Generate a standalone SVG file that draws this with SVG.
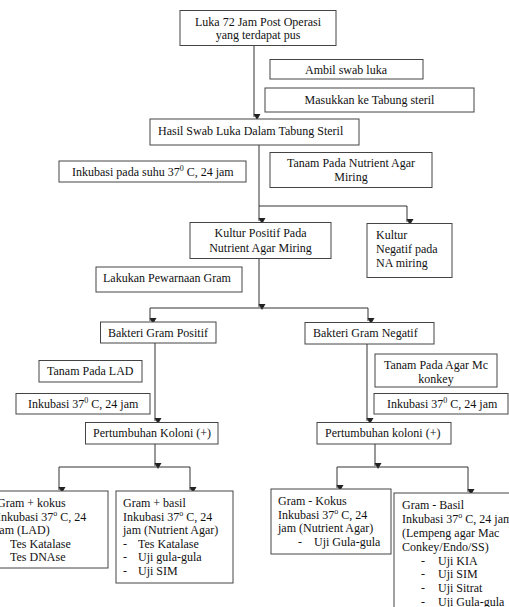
<svg xmlns="http://www.w3.org/2000/svg" width="509" height="607" viewBox="0 0 509 607">
<defs>
<marker id="arr" markerUnits="userSpaceOnUse" markerWidth="8" markerHeight="8" viewBox="0 0 8 8" refX="4" refY="7" orient="auto-start-reverse">
<path d="M0.5,1 L7.5,1 L4,7 Z" fill="#222" transform="rotate(-90 4 4)"/>
</marker>
<style>
rect{fill:#fff;stroke:#444;stroke-width:1}
text{font-family:"Liberation Serif","Times New Roman",serif;font-size:12px;fill:#111}
.c{text-anchor:middle}
.sup{font-size:8px}
#connectors path{fill:none;stroke:#333;stroke-width:1}
</style>
</defs>
<rect x="0" y="0" width="509" height="607" style="fill:#fff;stroke:none"/>
<g id="connectors">
<path d="M254,45 V117" marker-end="url(#arr)"/>
<path d="M259,145 V206 H407 V222" marker-end="url(#arr)"/>
<path d="M259,206 V221" marker-end="url(#arr)"/>
<path d="M259,258 V307" marker-end="url(#arr)"/>
<path d="M259,308 H150 V321" marker-end="url(#arr)"/>
<path d="M259,308 H368 V321" marker-end="url(#arr)"/>
<path d="M155,343 V421" marker-end="url(#arr)"/>
<path d="M367,344 V421" marker-end="url(#arr)"/>
<path d="M155,444 V466" marker-end="url(#arr)"/>
<path d="M155,467 H59 V490" marker-end="url(#arr)"/>
<path d="M155,467 H190 V490" marker-end="url(#arr)"/>
<path d="M375,444 V466" marker-end="url(#arr)"/>
<path d="M375,467 H337 V488" marker-end="url(#arr)"/>
<path d="M375,467 H468 V492" marker-end="url(#arr)"/>
</g>
<g id="n-luka"><rect x="180" y="10.5" width="156" height="35"/><text class="c" x="258" y="26">Luka 72 Jam Post Operasi</text><text class="c" x="258" y="38.5">yang terdapat pus</text></g>
<g id="n-ambil"><rect x="270" y="59.5" width="153" height="19.5"/><text class="c" x="346" y="74">Ambil swab luka</text></g>
<g id="n-masukkan"><rect x="265" y="88" width="209" height="24"/><text class="c" x="369.5" y="104">Masukkan ke Tabung steril</text></g>
<g id="n-hasil"><rect x="150" y="119" width="209" height="26"/><text x="158" y="135">Hasil Swab Luka Dalam Tabung Steril</text></g>
<g id="n-inkubasi1"><rect x="59" y="161" width="187" height="21"/><text x="72" y="176">Inkubasi pada suhu 37<tspan class="sup" dy="-5">0</tspan><tspan dy="5"> C, 24 jam</tspan></text></g>
<g id="n-tanam-na"><rect x="270" y="152.5" width="162" height="35"/><text class="c" x="351" y="167">Tanam Pada Nutrient Agar</text><text class="c" x="351" y="181">Miring</text></g>
<g id="n-kultur-pos"><rect x="190" y="222.5" width="141" height="36"/><text class="c" x="260.5" y="237">Kultur Positif Pada</text><text class="c" x="260.5" y="252">Nutrient Agar Miring</text></g>
<g id="n-kultur-neg"><rect x="367" y="223.5" width="85" height="54"/><text x="376" y="239">Kultur</text><text x="376" y="253">Negatif pada</text><text x="376" y="267">NA miring</text></g>
<g id="n-lakukan"><rect x="96" y="267" width="146" height="25"/><text x="103" y="282">Lakukan Pewarnaan Gram</text></g>
<g id="n-gram-pos"><rect x="100.5" y="322" width="115.5" height="21"/><text x="108" y="337">Bakteri Gram Positif</text></g>
<g id="n-gram-neg"><rect x="305" y="322.5" width="129" height="21.5"/><text x="313" y="337">Bakteri Gram Negatif</text></g>
<g id="n-tanam-lad"><rect x="39" y="360.5" width="103" height="21.5"/><text x="47" y="375">Tanam Pada LAD</text></g>
<g id="n-tanam-mc"><rect x="375" y="354" width="122" height="33"/><text class="c" x="436" y="369">Tanam Pada Agar Mc</text><text class="c" x="436" y="383">konkey</text></g>
<g id="n-inkubasi-l"><rect x="16" y="393.5" width="134" height="20.5"/><text x="28" y="408">Inkubasi 37<tspan class="sup" dy="-5">0</tspan><tspan dy="5"> C, 24 jam</tspan></text></g>
<g id="n-inkubasi-r"><rect x="374" y="393.5" width="134" height="20.5"/><text x="387" y="408">Inkubasi 37<tspan class="sup" dy="-5">0</tspan><tspan dy="5"> C, 24 jam</tspan></text></g>
<g id="n-pert-l"><rect x="85.5" y="422.5" width="132.5" height="21.5"/><text x="93" y="437">Pertumbuhan Koloni (+)</text></g>
<g id="n-pert-r"><rect x="317" y="422.5" width="134" height="21.5"/><text x="325" y="437">Pertumbuhan koloni (+)</text></g>
<g id="n-kokus-pos"><rect x="-10" y="491" width="118" height="77"/><text x="-3" y="507">Gram + kokus</text><text x="-3" y="521">Inkubasi 37<tspan class="sup" dy="-5">o</tspan><tspan dy="5"> C, 24</tspan></text><text x="-4" y="534">jam (LAD)</text><text x="10" y="548">Tes Katalase</text><text x="10" y="561">Tes DNAse</text></g>
<g id="n-basil-pos"><rect x="116" y="491" width="117" height="92"/><text x="123" y="507">Gram + basil</text><text x="123" y="521">Inkubasi 37<tspan class="sup" dy="-5">o</tspan><tspan dy="5"> C, 24</tspan></text><text x="123" y="534">jam (Nutrient Agar)</text><text x="123" y="548">-</text><text x="138" y="548">Tes Katalase</text><text x="123" y="561">-</text><text x="138" y="561">Uji gula-gula</text><text x="123" y="575">-</text><text x="138" y="575">Uji SIM</text></g>
<g id="n-kokus-neg"><rect x="271" y="489" width="120" height="65"/><text x="278" y="505">Gram - Kokus</text><text x="278" y="519">Inkubasi 37<tspan class="sup" dy="-5">o</tspan><tspan dy="5"> C, 24</tspan></text><text x="278" y="532">jam (Nutrient Agar)</text><text x="298" y="546">-</text><text x="314" y="546">Uji Gula-gula</text></g>
<g id="n-basil-neg"><rect x="394" y="493" width="130" height="130"/><text x="402" y="509">Gram - Basil</text><text x="402" y="523">Inkubasi 37<tspan class="sup" dy="-5">o</tspan><tspan dy="5"> C, 24 jam</tspan></text><text x="402" y="537">(Lempeng agar Mac</text><text x="402" y="551">Conkey/Endo/SS)</text><text x="421" y="565">-</text><text x="438" y="565">Uji KIA</text><text x="421" y="578">-</text><text x="438" y="578">Uji SIM</text><text x="421" y="592">-</text><text x="438" y="592">Uji Sitrat</text><text x="421" y="606">-</text><text x="438" y="606">Uji Gula-gula</text></g>
</svg>
